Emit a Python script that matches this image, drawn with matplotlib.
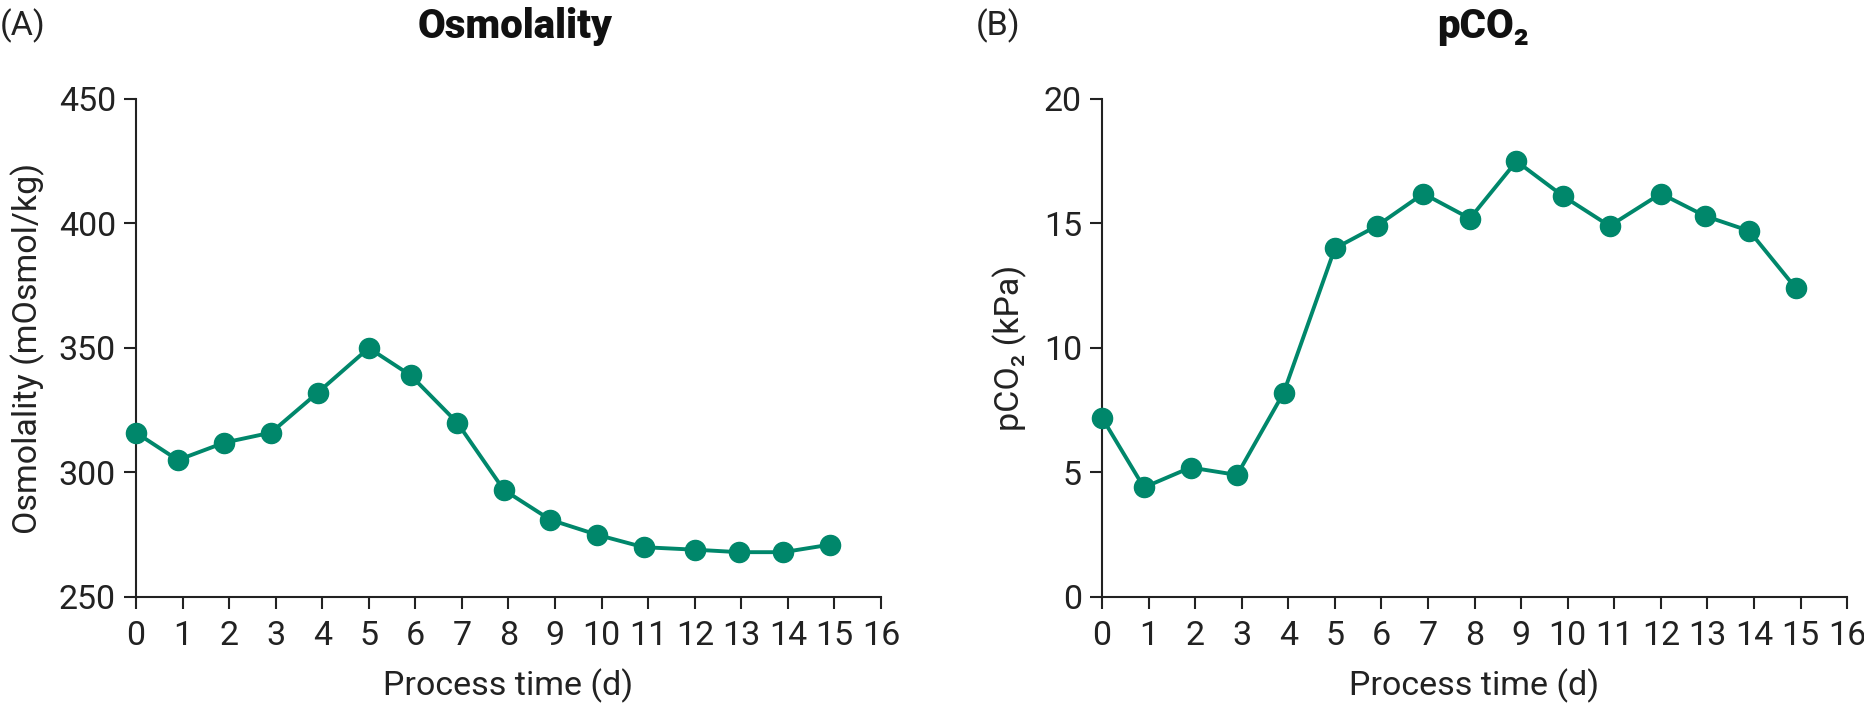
import matplotlib
matplotlib.use('Agg')
import matplotlib.pyplot as plt

plt.rcParams['font.family'] = ['Roboto', 'DejaVu Sans']

# sampling times (d) and measured values
time_d = [0, 0.9, 1.9, 2.9, 3.9, 5.0, 5.9, 6.9, 7.9, 8.9, 9.9, 10.9, 12.0, 12.95, 13.9, 14.9]
osmolality = [316, 305, 312, 316, 332, 350, 339, 320, 293, 281, 275, 270, 269, 268, 268, 271]
pco2 = [7.2, 4.4, 5.2, 4.9, 8.2, 14.0, 14.9, 16.2, 15.2, 17.5, 16.1, 14.9, 16.2, 15.3, 14.7, 12.4]

x_ticks = list(range(0, 17))
osmo_ticks = [250, 300, 350, 400, 450]
pco2_ticks = [0, 5, 10, 15, 20]

color = '#00876b'
fs = 24.5

fig = plt.figure(figsize=(18.65, 7.07), dpi=100)
ax1 = fig.add_axes([0.0729, 0.1556, 0.3995, 0.7044])
ax2 = fig.add_axes([0.5909, 0.1556, 0.3995, 0.7044])


def style(ax, vals, yticks):
    ax.plot(time_d, vals, color=color, lw=2.8, marker='o', ms=14.5, clip_on=False, zorder=3)
    ax.set_xlim(0, 16)
    ax.set_ylim(yticks[0], yticks[-1])
    ax.set_xticks(x_ticks)
    ax.set_yticks(yticks)
    for s in ['top', 'right']:
        ax.spines[s].set_visible(False)
    for s in ['left', 'bottom']:
        ax.spines[s].set_linewidth(1.5)
        ax.spines[s].set_color('#222222')
    ax.tick_params(direction='out', length=8.5, width=1.5, color='#222222',
                   labelsize=fs, labelcolor='#222222')
    ax.tick_params(axis='x', pad=8)
    ax.tick_params(axis='y', pad=6)
    ax.set_xlabel('Process time (d)', fontsize=fs, color='#222222', labelpad=12)


style(ax1, osmolality, osmo_ticks)
ax1.set_ylabel('Osmolality (mOsmol/kg)', fontsize=fs, color='#222222', labelpad=10)

style(ax2, pco2, pco2_ticks)
ax2.set_ylabel('pCO₂ (kPa)', fontsize=fs, color='#222222', labelpad=12)

fig.text(0.276, 0.963, 'Osmolality', fontsize=29, fontweight='heavy', ha='center', va='center', color='#111111')
fig.text(0.795, 0.963, 'pCO₂', fontsize=29, fontweight='heavy', ha='center', va='center', color='#111111')
fig.text(0.0, 0.963, '(A)', fontsize=fs, ha='left', va='center', color='#222222')
fig.text(0.523, 0.963, '(B)', fontsize=fs, ha='left', va='center', color='#222222')

fig.savefig('out.png', dpi=100)
